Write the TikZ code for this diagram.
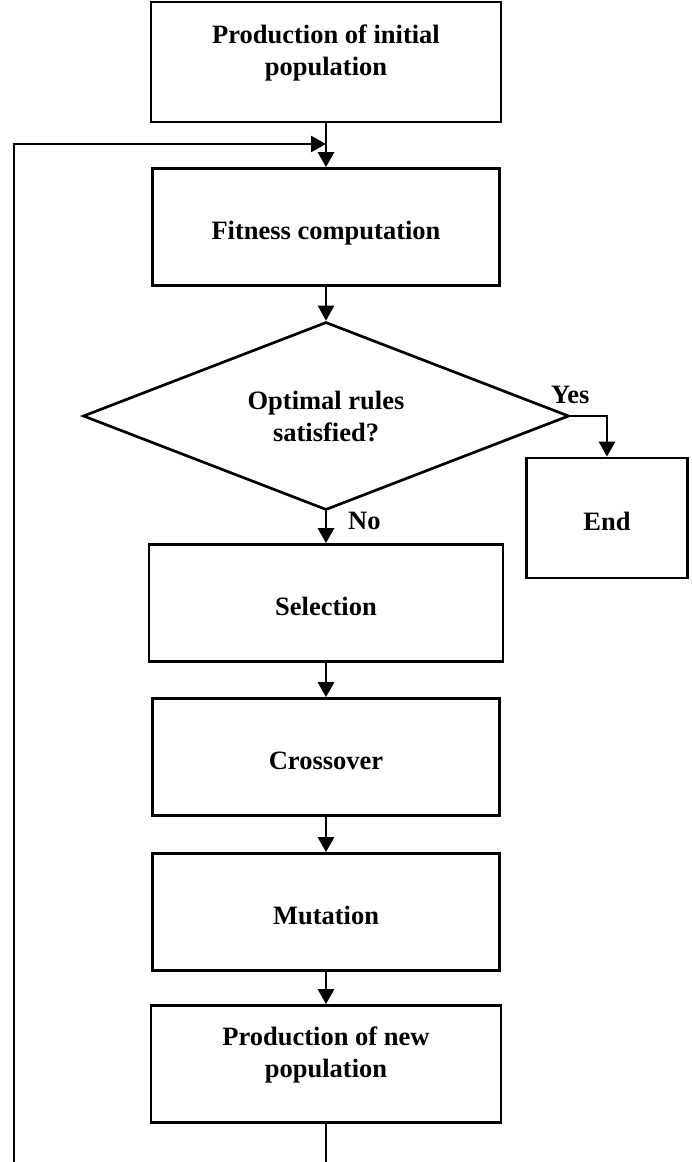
\documentclass[tikz,border=0pt]{standalone}
\usepackage{fontspec}
\setmainfont{Liberation Serif}
\usetikzlibrary{arrows.meta,shapes.geometric,calc}
\begin{document}
\begin{tikzpicture}[x=1pt,y=-1pt,
  every node/.style={font=\bfseries\fontsize{26.5}{32}\selectfont},
  box/.style={draw,line width=2.7pt,rectangle,inner sep=0pt,align=center,text height=24pt,text depth=0pt},
  txt/.style={inner sep=0pt,align=center},
  arr/.style={line width=2.7pt,-{Triangle[length=15pt,width=16pt]}},
  ln/.style={line width=2.7pt}]
\useasboundingbox (0,0) rectangle (692,1162);
\node[box,minimum width=350,minimum height=120] (b1) at (326,62) {};
\node[txt] (b1t) at ([yshift=9]b1.center) {Production of initial\\population};
\node[box,minimum width=347,minimum height=117] (b2) at (326,227) {Fitness computation};
\node[draw,line width=2.7pt,diamond,aspect=2.6,inner sep=0pt,align=center,
      minimum width=486,minimum height=188] (dia) at (326,416) {Optimal rules\\satisfied?};
\node[box,minimum width=161,minimum height=120] (end) at (607,518) {End};
\node[box,minimum width=354,minimum height=117] (sel) at (326,603) {Selection};
\node[box,minimum width=347,minimum height=117] (cro) at (326,757) {Crossover};
\node[box,minimum width=347,minimum height=117] (mut) at (326,912) {Mutation};
\node[box,minimum width=350,minimum height=117] (newp) at (326,1064) {};
\node[txt] (newpt) at ([yshift=9]newp.center) {Production of new\\population};
\coordinate (j) at (b1.south |- 0,144);
\coordinate (bot1) at (newp.south |- 0,1166);
\coordinate (bot2) at (14,1166);
\draw[arr] (b1.south) -- (b2.north);
\draw[arr] (b2.south) -- (dia.north);
\draw[arr] (dia.east) -| (end.north);
\draw[arr] (dia.south) -- (sel.north);
\draw[arr] (sel.south) -- (cro.north);
\draw[arr] (cro.south) -- (mut.north);
\draw[arr] (mut.south) -- (newp.north);
\draw[ln] (newp.south) -- (bot1);
\draw[arr] (bot2) |- (j);
\node[txt,anchor=south] (yes) at ([yshift=12]dia.east) {Yes};
\node[txt,anchor=north west] (no) at ([xshift=22,yshift=-1]dia.south) {No};
\end{tikzpicture}
\end{document}
